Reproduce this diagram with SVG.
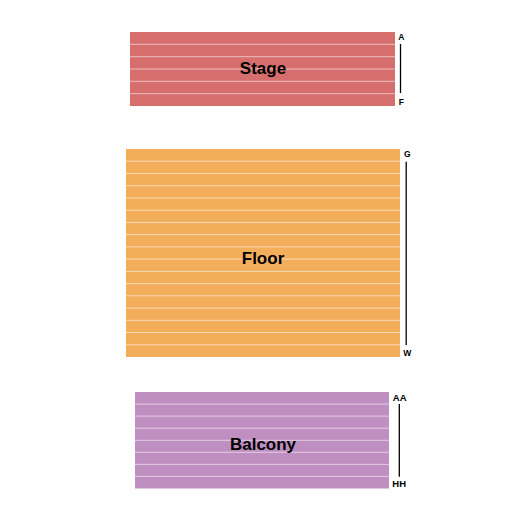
<svg xmlns="http://www.w3.org/2000/svg" width="525" height="525" viewBox="0 0 525 525">
<style>
.sec-label{font-family:"Liberation Sans",Arial,sans-serif;font-weight:bold;font-size:17px;fill:#000;text-anchor:middle}
.row-label{font-family:"Liberation Sans",Arial,sans-serif;font-weight:bold;font-size:8.5px;fill:#000;text-anchor:middle}
.sep{stroke:#ffffff;stroke-opacity:0.55;stroke-width:1}
.bar{stroke:#000;stroke-width:1.3}
</style>
<rect width="525" height="525" fill="#ffffff"/>
<g id="stage">
<rect x="130" y="32" width="265" height="74" fill="#D76E6E"/>
<g class="sep">
<line x1="130" y1="44.3" x2="395" y2="44.3"/>
<line x1="130" y1="56.7" x2="395" y2="56.7"/>
<line x1="130" y1="69" x2="395" y2="69"/>
<line x1="130" y1="81.3" x2="395" y2="81.3"/>
<line x1="130" y1="93.7" x2="395" y2="93.7"/>
</g>
<text class="sec-label" x="263" y="74">Stage</text>
<text class="row-label" x="401.3" y="39.5">A</text>
<text class="row-label" x="401.3" y="105">F</text>
</g>
<g id="floor">
<rect x="126" y="149" width="274" height="208" fill="#F2AE5A"/>
<g class="sep">
<line x1="126" y1="161.2" x2="400" y2="161.2"/>
<line x1="126" y1="173.5" x2="400" y2="173.5"/>
<line x1="126" y1="185.7" x2="400" y2="185.7"/>
<line x1="126" y1="197.9" x2="400" y2="197.9"/>
<line x1="126" y1="210.2" x2="400" y2="210.2"/>
<line x1="126" y1="222.4" x2="400" y2="222.4"/>
<line x1="126" y1="234.6" x2="400" y2="234.6"/>
<line x1="126" y1="246.9" x2="400" y2="246.9"/>
<line x1="126" y1="259.1" x2="400" y2="259.1"/>
<line x1="126" y1="271.4" x2="400" y2="271.4"/>
<line x1="126" y1="283.6" x2="400" y2="283.6"/>
<line x1="126" y1="295.8" x2="400" y2="295.8"/>
<line x1="126" y1="308.1" x2="400" y2="308.1"/>
<line x1="126" y1="320.3" x2="400" y2="320.3"/>
<line x1="126" y1="332.5" x2="400" y2="332.5"/>
<line x1="126" y1="344.8" x2="400" y2="344.8"/>
</g>
<text class="sec-label" x="263" y="264">Floor</text>
<text class="row-label" x="407.3" y="156.5">G</text>
<text class="row-label" x="407.3" y="355.7">W</text>
</g>
<g id="balcony">
<rect x="135" y="392" width="254" height="96.5" fill="#BF8FC1"/>
<g class="sep">
<line x1="135" y1="404.1" x2="389" y2="404.1"/>
<line x1="135" y1="416.1" x2="389" y2="416.1"/>
<line x1="135" y1="428.2" x2="389" y2="428.2"/>
<line x1="135" y1="440.3" x2="389" y2="440.3"/>
<line x1="135" y1="452.3" x2="389" y2="452.3"/>
<line x1="135" y1="464.4" x2="389" y2="464.4"/>
<line x1="135" y1="476.4" x2="389" y2="476.4"/>
</g>
<text class="sec-label" x="263" y="449.5">Balcony</text>
<text class="row-label" x="399.7" y="400.7" style="font-size:9.5px">AA</text>
<text class="row-label" x="399.2" y="486.7" style="font-size:9.5px">HH</text>
</g>
<g id="connectors">
<line class="bar" x1="400.5" y1="44" x2="400.5" y2="93"/>
<line class="bar" x1="406.2" y1="161.7" x2="406.2" y2="345"/>
<line class="bar" x1="399.3" y1="404" x2="399.3" y2="476.7"/>
</g>
</svg>
